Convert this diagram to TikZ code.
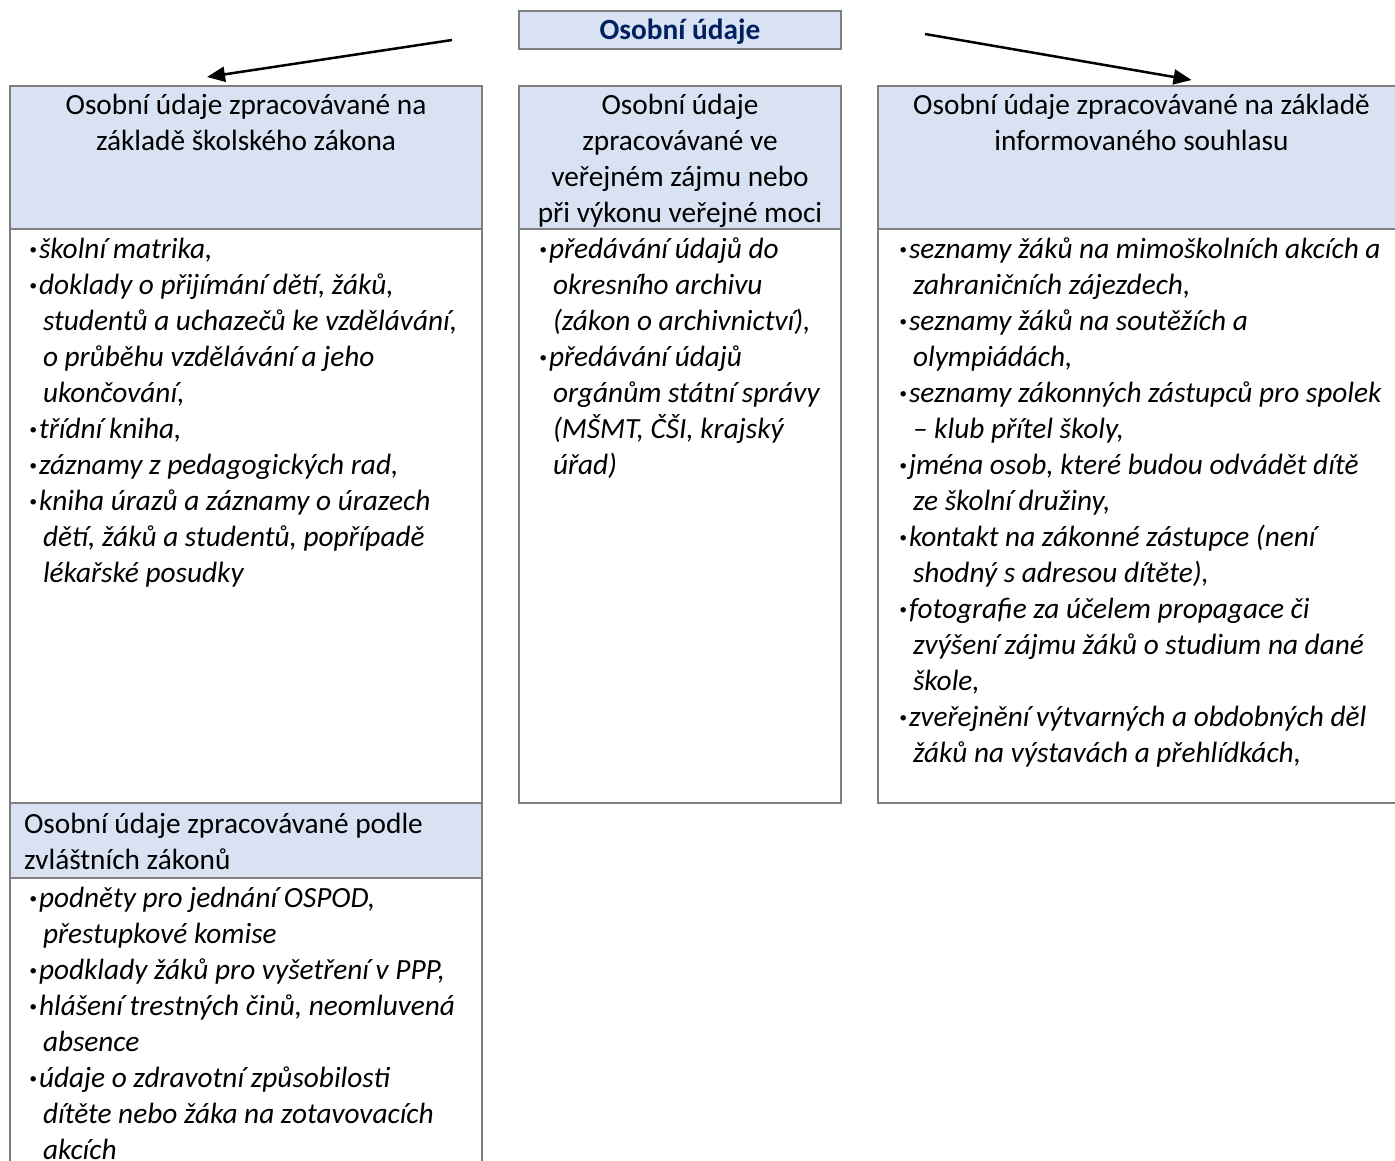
\documentclass[tikz,border=0pt]{standalone}
\usepackage{fontspec}
\setmainfont{Carlito}
\usetikzlibrary{arrows.meta, positioning}

\definecolor{hdrblue}{HTML}{D9E2F3}
\definecolor{linegray}{HTML}{7F7F7F}
\definecolor{titleblue}{HTML}{002060}

\newcommand{\hdrtext}[3]{\parbox[t][#1][t]{#2}{\centering\rule{0pt}{28pt}#3}}
\newcommand{\hdrleft}[4]{\parbox[t][#1][t]{#2}{\parindent=0pt\leftskip=#3\rightskip=0pt plus 1fil\rule{0pt}{30pt}#4}}
\newcommand{\bodytext}[4]{\parbox[t][#1][t]{#2}{\parindent=0pt\leftskip=#3\rightskip=-40pt plus 1fil\itshape #4}}
\newcommand{\itm}{\par\hangindent=14pt\hangafter=1\noindent\rule{0pt}{29.5pt}\makebox[10pt][l]{\bfseries·}}

\tikzset{
  box/.style={draw=linegray, line width=2pt, inner sep=0pt, outer sep=0pt, anchor=north west,
              font=\fontsize{29.3}{36}\selectfont},
  hdr/.style={box, fill=hdrblue},
  arr/.style={line width=2.5pt, -{Triangle[length=18pt, width=15pt]}},
}

\begin{document}
\begin{tikzpicture}[x=1pt, y=-1pt]
    \clip (0,0) rectangle (1395,1160);
    %title
    \node[hdr] (title) at (519,11) {\hdrtext{38pt}{322pt}{\bfseries\color{titleblue}Osobní údaje}};
    %left column
    \node[hdr] (hL) at (10,86) {\hdrtext{143pt}{472pt}{Osobní údaje zpracovávané na\\základě školského zákona}};
    \node[box] (bL) at (hL.south west) {\bodytext{574pt}{472pt}{19pt}{%
        \itm školní matrika,
        \itm doklady o přijímání dětí, žáků,\\studentů a uchazečů ke vzdělávání,\\o průběhu vzdělávání a jeho\\ukončování,
        \itm třídní kniha,
        \itm záznamy z pedagogických rad,
        \itm kniha úrazů a záznamy o úrazech\\dětí, žáků a studentů, popřípadě\\lékařské posudky}};
    \node[hdr] (hZ) at (bL.south west) {\hdrleft{75pt}{472pt}{14pt}{Osobní údaje zpracovávané podle\\zvláštních zákonů}};
    \node[box] (bZ) at (hZ.south west) {\bodytext{300pt}{472pt}{19pt}{%
        \itm podněty pro jednání OSPOD,\\přestupkové komise
        \itm podklady žáků pro vyšetření v PPP,
        \itm hlášení trestných činů, neomluvená\\absence
        \itm údaje o zdravotní způsobilosti\\dítěte nebo žáka na zotavovacích\\akcích}};
    %middle column
    \node[hdr] (hM) at (519,86) {\hdrtext{143pt}{322pt}{Osobní údaje\\zpracovávané ve\\veřejném zájmu nebo\\při výkonu veřejné moci}};
    \node[box] (bM) at (hM.south west) {\bodytext{574pt}{322pt}{20pt}{%
        \itm předávání údajů do\\okresního archivu\\(zákon o archivnictví),
        \itm předávání údajů\\orgánům státní správy\\(MŠMT, ČŠI, krajský\\úřad)}};
    %right column
    \node[hdr] (hR) at (878,86) {\hdrtext{143pt}{527pt}{Osobní údaje zpracovávané na základě\\informovaného souhlasu}};
    \node[box] (bR) at (hR.south west) {\bodytext{574pt}{527pt}{21pt}{%
        \itm seznamy žáků na mimoškolních akcích a\\zahraničních zájezdech,
        \itm seznamy žáků na soutěžích a\\olympiádách,
        \itm seznamy zákonných zástupců pro spolek\\– klub přítel školy,
        \itm jména osob, které budou odvádět dítě\\ze školní družiny,
        \itm kontakt na zákonné zástupce (není\\shodný s adresou dítěte),
        \itm fotografie za účelem propagace či\\zvýšení zájmu žáků o studium na dané\\škole,
        \itm zveřejnění výtvarných a obdobných děl\\žáků na výstavách a přehlídkách,}};
    \draw[arr] ([shift={(-67,10)}]title.west) -- ([shift={(-39,-9)}]hL.north);
    \draw[arr] ([shift={(84,4)}]title.east) -- ([shift={(50,-6)}]hR.north);
\end{tikzpicture}
\end{document}
